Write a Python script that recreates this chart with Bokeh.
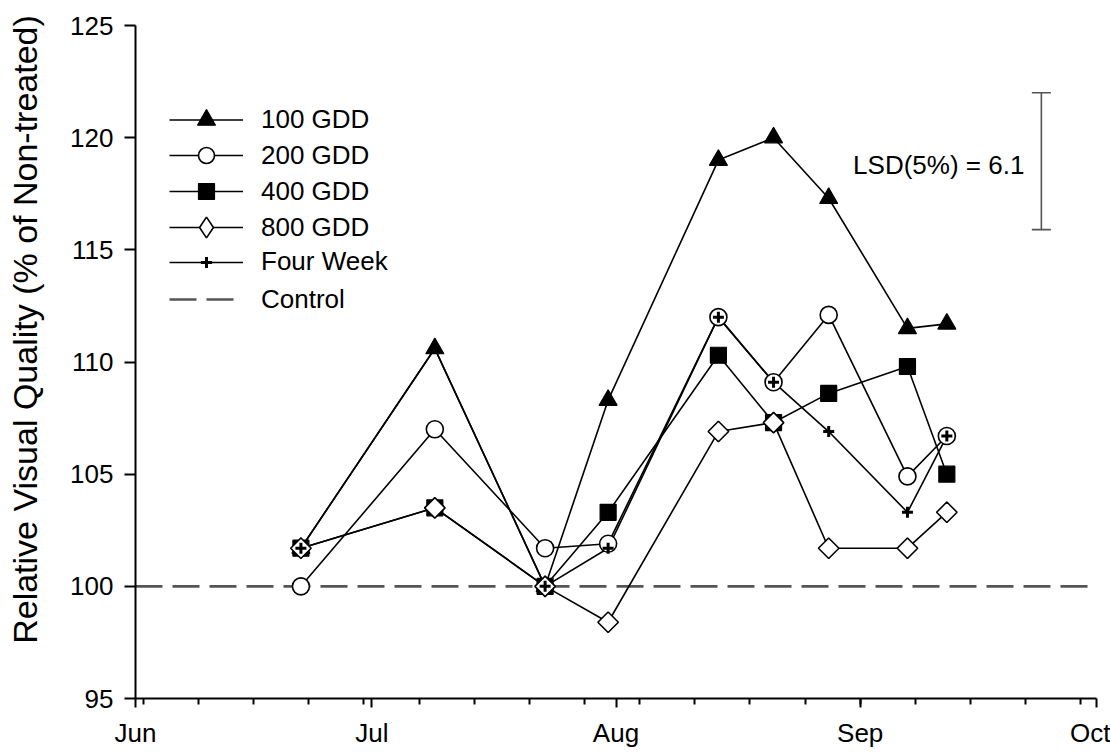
import math
from datetime import datetime, timedelta

from bokeh.plotting import figure
from bokeh.models import (Range1d, FixedTicker, DatetimeTickFormatter, Legend, LegendItem,
                          Whisker, TeeHead, ColumnDataSource, Label)
from bokeh.core.properties import value
from bokeh.embed import file_html
from bokeh.resources import INLINE

# ---------------- data ----------------
sample_dates = ["2008-06-22", "2008-07-09", "2008-07-23", "2008-07-31", "2008-08-14",
                "2008-08-21", "2008-08-28", "2008-09-07", "2008-09-12"]
gdd_100 = [101.7, 110.6, 100.0, 108.3, 119.0, 120.0, 117.3, 111.5, 111.7]
gdd_200 = [100.0, 107.0, 101.7, 101.9, 112.0, 109.1, 112.1, 104.9, 106.7]
gdd_400 = [101.7, 103.5, 100.0, 103.3, 110.3, 107.3, 108.6, 109.8, 105.0]
gdd_800 = [101.7, 103.5, 100.0, 98.4, 106.9, 107.3, 101.7, 101.7, 103.3]
four_week = [101.7, 110.6, 100.0, 101.7, 112.0, 109.1, 106.9, 103.3, 106.7]
control_value = 100.0

series_names = ["100 GDD", "200 GDD", "400 GDD", "800 GDD", "Four Week", "Control"]

lsd_label = "LSD(5%) = 6.1"
lsd_value = 6.1
lsd_top = 122.0
lsd_date = "2008-09-24"

y_title = "Relative Visual Quality (% of Non-treated)"
month_ticks = ["2008-06-01", "2008-07-01", "2008-08-01", "2008-09-01", "2008-10-01"]
first_week_tick = "2008-06-02"
y_ticks = [95, 100, 105, 110, 115, 120, 125]
y_limits = [95, 125]


def to_dt(s):
    return datetime.strptime(s, "%Y-%m-%d")


def to_ms(d):
    return (d - datetime(1970, 1, 1)).total_seconds() * 1000.0


x = [to_dt(d) for d in sample_dates]
months = [to_dt(d) for d in month_ticks]
x_start, x_end = months[0], months[-1]

week_ticks = []
wk = to_dt(first_week_tick)
while wk < x_end:
    week_ticks.append(wk)
    wk += timedelta(days=7)

FONT = "Liberation Sans"
W, H = 1110, 752
# pixel box of the axes inside the canvas (axes are pinned with fixed_location)
AX_LEFT, AX_RIGHT, AX_TOP, AX_BOTTOM = 135, 1096, 25, 698

ms_per_px = (to_ms(x_end) - to_ms(x_start)) / (AX_RIGHT - AX_LEFT)
view_x0 = to_ms(x_start) - AX_LEFT * ms_per_px
view_x1 = to_ms(x_end) + (W - AX_RIGHT) * ms_per_px
val_per_px = (y_limits[1] - y_limits[0]) / (AX_BOTTOM - AX_TOP)
view_y0 = y_limits[0] - (H - AX_BOTTOM) * val_per_px
view_y1 = y_limits[1] + AX_TOP * val_per_px

p = figure(width=W, height=H, x_axis_type="datetime",
           x_range=Range1d(view_x0, view_x1), y_range=Range1d(view_y0, view_y1),
           output_backend="svg", toolbar_location=None,
           min_border_left=0, min_border_right=0, min_border_top=0, min_border_bottom=0)
p.outline_line_color = None
p.grid.visible = False
p.background_fill_color = "white"
p.border_fill_color = "white"

xaxis = p.xaxis[0]
yaxis = p.yaxis[0]
xaxis.bounds = (x_start, x_end)
xaxis.fixed_location = y_limits[0]
yaxis.bounds = (y_limits[0], y_limits[1])
yaxis.fixed_location = to_ms(x_start)
xaxis.ticker = FixedTicker(ticks=[to_ms(m) for m in months], minor_ticks=[to_ms(w) for w in week_ticks])
fmt = "%b"
xaxis.formatter = DatetimeTickFormatter(microseconds=fmt, milliseconds=fmt, seconds=fmt, minsec=fmt,
                                        minutes=fmt, hourmin=fmt, hours=fmt, days=fmt,
                                        months=fmt, years=fmt)
yaxis.ticker = FixedTicker(ticks=y_ticks, minor_ticks=[])

for ax in (xaxis, yaxis):
    ax.axis_line_color = "black"
    ax.axis_line_width = 2
    ax.major_tick_line_color = "black"
    ax.major_tick_line_width = 2
    ax.minor_tick_line_color = "black"
    ax.minor_tick_line_width = 2
    ax.major_label_text_font = FONT
    ax.major_label_text_font_size = "26px"
    ax.major_label_text_color = "black"
    ax.major_tick_in = 0
    ax.minor_tick_in = 0

xaxis.major_tick_out = 9
xaxis.minor_tick_out = 6
xaxis.major_label_standoff = 10
yaxis.major_tick_out = 11
yaxis.minor_tick_out = 0
yaxis.major_label_standoff = 11

# vertical axis title, left of the tick labels (slightly above the axis centre)
p.add_layout(Label(x=view_x0 + 24 * ms_per_px, y=view_y1 - 329 * val_per_px, text=y_title,
                   angle=math.pi / 2, text_align="center", text_baseline="alphabetic",
                   text_font=FONT, text_font_size="34px", text_color="black"))

# control line (dashed) across the Jun-Oct span
ctrl = p.line([x_start, x_end], [control_value, control_value], line_color="#555555",
              line_width=2.6, line_dash="27 10")

series = [gdd_100, gdd_200, gdd_400, gdd_800, four_week]
line_rs = []
for ys in series:
    line_rs.append(p.line(x, ys, line_color="black", line_width=1.6))

# diamond outline kept for the legend swatch (hidden under the square-diamond marks)
diamond_legend_r = p.scatter(x, gdd_800, marker="diamond", size=19, fill_color="white",
                             line_color="black", line_width=1.6)

marker_styles = [
    dict(marker="triangle", size=18, fill_color="black", line_color="black", line_width=1.2),
    dict(marker="circle", size=17, fill_color="white", line_color="black", line_width=1.6),
    dict(marker="square", size=16, fill_color="black", line_color="black", line_width=1.2),
    dict(marker="square", size=14.5, angle=math.pi / 4, fill_color="white", line_color="black", line_width=1.6),
    dict(marker="cross", size=11, line_color="black", line_width=3),
]
scatter_rs = []
for ys, st in zip(series, marker_styles):
    scatter_rs.append(p.scatter(x, ys, **st))

# LSD bar
lsd_dt = to_dt(lsd_date)
lsd_src = ColumnDataSource(dict(x=[lsd_dt], upper=[lsd_top], lower=[lsd_top - lsd_value]))
whisk = Whisker(source=lsd_src, base="x", upper="upper", lower="lower", dimension="height",
                line_color="#555555", line_width=1.6,
                upper_head=TeeHead(size=19, line_color="#555555", line_width=1.6),
                lower_head=TeeHead(size=19, line_color="#555555", line_width=1.6))
p.add_layout(whisk)
p.text(x=[lsd_dt], y=[lsd_top - lsd_value / 2], text=[lsd_label], text_align="right",
       text_baseline="middle", x_offset=-17, y_offset=4, text_font=value(FONT),
       text_font_size="26px", text_color="black")

# legend: one row per entry so each swatch gets its own marker size
legend_renderers = [
    [line_rs[0], scatter_rs[0]],
    [line_rs[1], scatter_rs[1]],
    [line_rs[2], scatter_rs[2]],
    [line_rs[3], diamond_legend_r],
    [line_rs[4], scatter_rs[4]],
    [ctrl],
]
swatch_heights = [45, 40, 40, 52, 28, 36]
first_row_center, row_pitch = 119, 36
for i, (name, rends, gh) in enumerate(zip(series_names, legend_renderers, swatch_heights)):
    yc = first_row_center + row_pitch * i
    lg = Legend(items=[LegendItem(label=name, renderers=rends)],
                location=(169, H - (yc + gh / 2)),
                glyph_width=74, glyph_height=gh, label_height=gh, label_standoff=18,
                spacing=0, padding=0, margin=0,
                label_text_font=FONT, label_text_font_size="26px", label_text_color="black",
                label_text_baseline="middle",
                border_line_color=None, background_fill_alpha=0)
    p.add_layout(lg)

open("out.html", "w").write(file_html(p, INLINE))
